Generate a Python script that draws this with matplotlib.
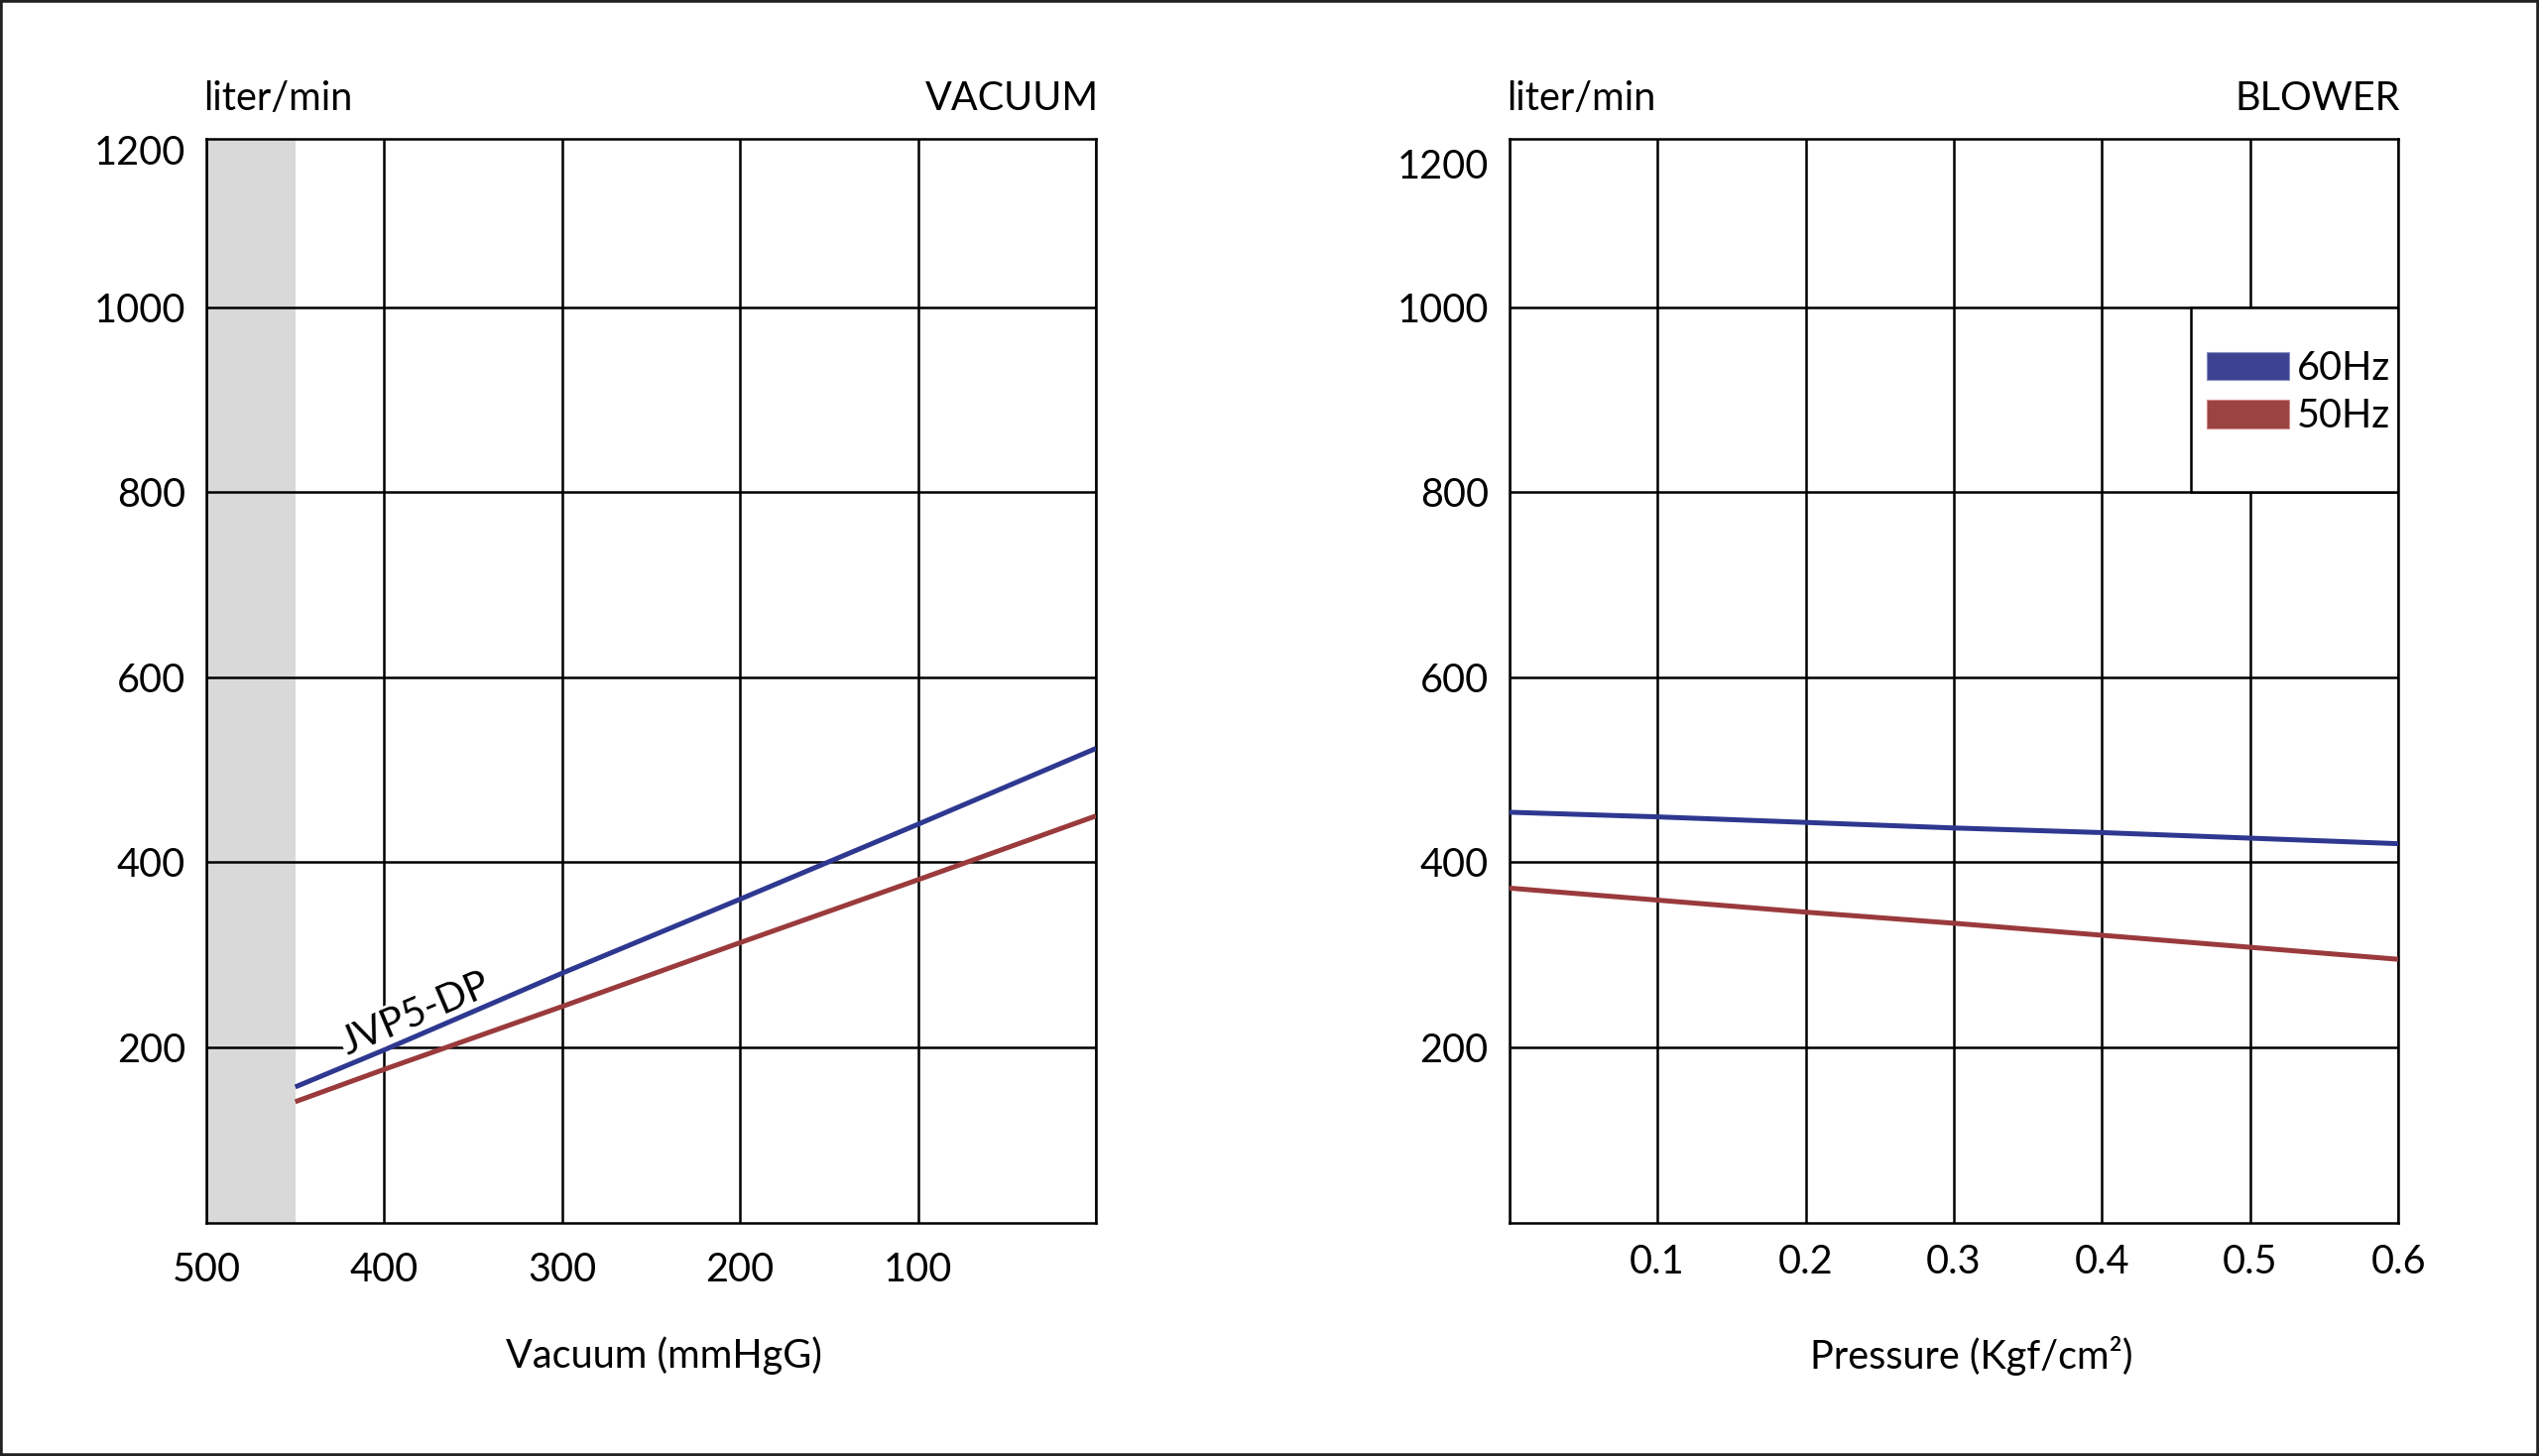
import matplotlib
matplotlib.use("Agg")
import matplotlib.pyplot as plt
from matplotlib.patches import Patch, Rectangle
from matplotlib.transforms import blended_transform_factory

plt.rcParams['font.family'] = ['Lato', 'DejaVu Sans']
plt.rcParams['font.size'] = 28.5

# vacuum side (left), x = vacuum in mmHgG
vac_x = [450, 400, 300, 200, 100, 0]
vac_60 = [157, 197, 280, 360, 441, 523]
vac_50 = [141, 176, 244, 313, 381, 450]
vac_limit = 450  # grey band from 500 down to here
vac_ticks = [500, 400, 300, 200, 100, 0]
vac_labels = ['500', '400', '300', '200', '100', '']

# blower side (right), x = pressure in Kgf/cm2
blw_x = [0.0, 0.1, 0.2, 0.3, 0.4, 0.5, 0.6]
blw_60 = [454, 449, 443, 437, 432, 426, 420]
blw_50 = [372, 359, 346, 334, 321, 308, 295]
blw_ticks = [0.0, 0.1, 0.2, 0.3, 0.4, 0.5, 0.6]
blw_labels = ['', '0.1', '0.2', '0.3', '0.4', '0.5', '0.6']

flow_ticks = [200, 400, 600, 800, 1000]
model = "JVP5-DP"

BLUE = '#2e3890'
RED = '#9a3a3c'
LW_GRID = 1.8

fig = plt.figure(figsize=(25.6, 14.68), dpi=100)
ax1 = fig.add_axes([0.08125, 0.1601, 0.3504, 0.7445])
ax2 = fig.add_axes([0.5944, 0.1601, 0.3502, 0.7445])


def style(ax, top_label_y):
    ax.set_ylim(10, 1182)
    ax.set_yticks(flow_ticks)
    ax.set_yticks([top_label_y], minor=True)
    ax.set_yticklabels(['1200'], minor=True)
    ax.grid(True, which='major', color='black', lw=LW_GRID, zorder=1)
    ax.tick_params(which='both', length=0)
    ax.tick_params(axis='y', which='both', pad=15)
    for s in ax.spines.values():
        s.set_linewidth(LW_GRID)
    ax.set_axisbelow(True)


# ---- left: VACUUM
ax1.set_xlim(500, 0)
ax1.set_xticks(vac_ticks)
ax1.set_xticklabels(vac_labels)
style(ax1, 1170)
ax1.tick_params(axis='x', pad=21)
ax1.axvspan(500, vac_limit, color='#d9d9d9', zorder=0, lw=0)
ax1.plot(vac_x, vac_60, color=BLUE, lw=3.6, zorder=4, solid_capstyle='butt')
ax1.plot(vac_x, vac_50, color=RED, lw=3.6, zorder=4, solid_capstyle='butt')
ax1.text(382, 236, model, rotation=23, ha='center', va='center',
         rotation_mode='anchor', zorder=3,
         bbox=dict(facecolor='white', edgecolor='none', pad=1))
ax1.text(-0.003, 1.0375, 'liter/min', transform=ax1.transAxes, ha='left', va='center')
ax1.text(1.003, 1.0375, 'VACUUM', transform=ax1.transAxes, ha='right', va='center')
ax1.text(0.514, -0.1226, 'Vacuum (mmHgG)', transform=ax1.transAxes, ha='center', va='center')

# ---- right: BLOWER
ax2.set_xlim(0, 0.6)
ax2.set_xticks(blw_ticks)
ax2.set_xticklabels(blw_labels)
style(ax2, 1155)
ax2.tick_params(axis='x', pad=15)
ax2.plot(blw_x, blw_60, color=BLUE, lw=3.6, zorder=4, solid_capstyle='butt')
ax2.plot(blw_x, blw_50, color=RED, lw=3.6, zorder=4, solid_capstyle='butt')
ax2.text(-0.003, 1.0375, 'liter/min', transform=ax2.transAxes, ha='left', va='center')
ax2.text(1.002, 1.0375, 'BLOWER', transform=ax2.transAxes, ha='right', va='center')
ax2.text(0.52, -0.1226, 'Pressure (Kgf/cm²)', transform=ax2.transAxes, ha='center', va='center')

# legend box sits between the 800 and 1000 lines
trans = blended_transform_factory(ax2.transAxes, ax2.transData)
ax2.add_patch(Rectangle((0.767, 800), 0.233, 200, transform=trans, facecolor='white',
                        edgecolor='black', lw=LW_GRID, zorder=2))
handles = [Patch(facecolor='#3d4391', edgecolor='#8a8fc0', lw=0.8, label='60Hz'),
           Patch(facecolor='#9b4243', edgecolor='#d08a8a', lw=0.8, label='50Hz')]
leg = ax2.legend(handles=handles, loc='upper left', bbox_to_anchor=(0.784, 0.805),
                 bbox_transform=ax2.transAxes, frameon=False, borderpad=0,
                 handlelength=2.1, handleheight=0.72, handletextpad=0.2,
                 labelspacing=0.28, borderaxespad=0)
leg.set_zorder(5)

fig.patches.append(Rectangle((0, 0), 1, 1, transform=fig.transFigure, fill=False,
                             edgecolor='#222222', lw=4))

fig.savefig('out.png', dpi=100)
